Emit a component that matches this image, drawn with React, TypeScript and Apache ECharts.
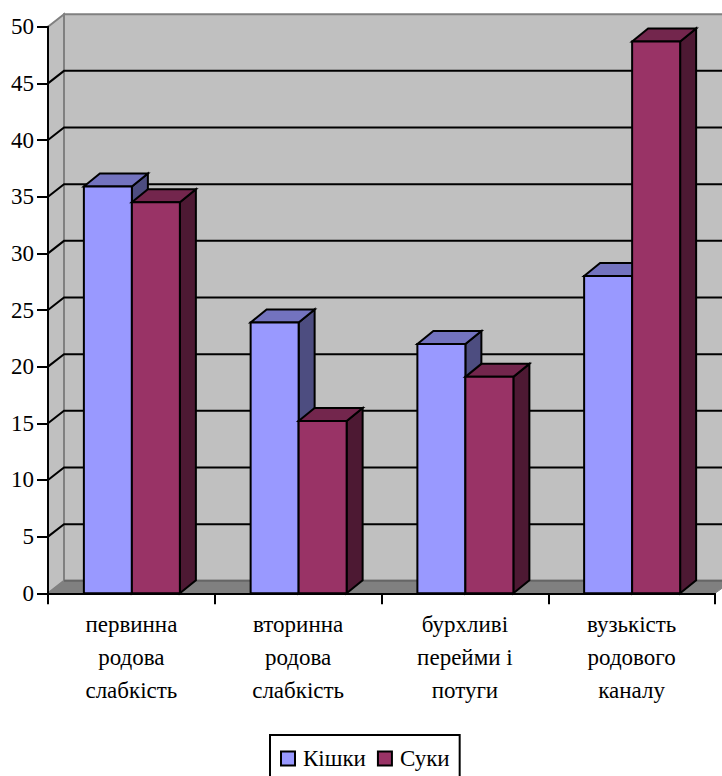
import React, { useEffect, useRef } from "react";
import * as echarts from "echarts";

const categories = ["первинна\nродова\nслабкість", "вторинна\nродова\nслабкість", "бурхливі\nперейми і\nпотуги", "вузькість\nродового\nканалу"];
const catsName = "Кішки";
const dogsName = "Суки";
const catsValues = [35.9, 23.9, 22, 28];
const dogsValues = [34.5, 15.2, 19.1, 48.7];
const gridTicks = [5, 10, 15, 20, 25, 30, 35, 40, 45];

const FONT = "Liberation Serif";
const DX = 16;
const WALL_DY = 12.5;
const BAR_DY = 13;
const BAR_W = 48;

const polygon = (points: number[][], fill: string, stroke = "#000", lineWidth = 2) => ({
  type: "polygon",
  shape: { points },
  style: { fill, stroke, lineWidth, lineJoin: "miter" },
});

function renderWalls(params: any, api: any) {
  const cs = params.coordSys;
  const left = cs.x;
  const right = 722;
  const y0 = api.coord([0, 0])[1];
  const yTop = api.coord([0, 50])[1];
  const backX = left + DX;
  const children: any[] = [
    polygon([[backX, yTop - WALL_DY], [right + 4, yTop - WALL_DY], [right + 4, y0 - WALL_DY], [backX, y0 - WALL_DY]], "#c0c0c0", "#808080"),
    polygon([[left, yTop], [backX, yTop - WALL_DY], [backX, y0 - WALL_DY], [left, y0]], "#c0c0c0", "#808080"),
    polygon([[left, y0], [backX, y0 - WALL_DY], [right, y0 - WALL_DY], [right, y0 - 5], [cs.x + cs.width, y0]], "#808080", "#808080", 1),
    {
      type: "line",
      shape: { x1: backX, y1: y0 - WALL_DY, x2: right, y2: y0 - WALL_DY },
      style: { stroke: "#666666", lineWidth: 2 },
    },
  ];
  gridTicks.forEach((t) => {
    const y = api.coord([0, t])[1];
    children.push({
      type: "polyline",
      shape: { points: [[left, y], [backX, y - WALL_DY], [right + 4, y - WALL_DY]] },
      style: { fill: "none", stroke: "#000", lineWidth: 2 },
    });
  });
  return { type: "group", children };
}

const makeBar = (offset: number, front: string, top: string, side: string) => (_params: any, api: any) => {
  const base = api.coord([api.value(0), 0]);
  const head = api.coord([api.value(0), api.value(1)]);
  const x0 = base[0] + offset + 0.5;
  const x1 = x0 + BAR_W;
  const yb = base[1];
  const yt = head[1];
  return {
    type: "group",
    children: [
      polygon([[x1, yb], [x1 + DX, yb - BAR_DY], [x1 + DX, yt - BAR_DY], [x1, yt]], side),
      polygon([[x0, yt], [x0 + DX, yt - BAR_DY], [x1 + DX, yt - BAR_DY], [x1, yt]], top),
      polygon([[x0, yb], [x1, yb], [x1, yt], [x0, yt]], front),
    ],
  };
};

export default function App() {
  const ref = useRef<HTMLDivElement>(null);
  useEffect(() => {
    const chart = echarts.init(ref.current!, undefined, { renderer: "svg" });
    chart.setOption({
      animation: false,
      textStyle: { fontFamily: FONT },
      grid: { left: 48, top: 26.7, width: 667, height: 566.6 },
      legend: {
        data: [
          { name: catsName, icon: "rect", itemStyle: { color: "#9999ff", borderColor: "#000", borderWidth: 2 } },
          { name: dogsName, icon: "rect", itemStyle: { color: "#993366", borderColor: "#000", borderWidth: 2 } },
        ],
        left: 270,
        top: 735,
        orient: "horizontal",
        itemWidth: 14,
        itemHeight: 14,
        itemGap: 11,
        padding: [12, 10, 20, 10],
        borderColor: "#000",
        borderWidth: 2,
        backgroundColor: "#fff",
        selectedMode: false,
        textStyle: { fontFamily: FONT, fontSize: 23, color: "#000", padding: [0, 0, 0, 3] },
      },
      xAxis: {
        type: "category",
        data: categories,
        z: 5,
        axisLine: { lineStyle: { color: "#000", width: 2 } },
        axisTick: { show: true, length: 11, lineStyle: { color: "#000", width: 2 } },
        axisLabel: { interval: 0, color: "#000", fontFamily: FONT, fontSize: 23, lineHeight: 33, margin: 15 },
        splitLine: { show: false },
      },
      yAxis: {
        type: "value",
        min: 0,
        max: 50,
        interval: 5,
        z: 5,
        axisLine: { show: true, lineStyle: { color: "#000", width: 2 } },
        axisTick: { show: true, length: 11, lineStyle: { color: "#000", width: 2 } },
        axisLabel: { color: "#000", fontFamily: FONT, fontSize: 23, margin: 14 },
        splitLine: { show: false },
      },
      series: [
        { type: "custom", name: "walls", silent: true, z: 1, clip: false, renderItem: renderWalls, data: [[0, 0]], encode: { x: 0, y: 1 } },
        {
          type: "custom", name: catsName, silent: true, z: 2, clip: false,
          renderItem: makeBar(-48, "#9999ff", "#7373bf", "#4d4d80"),
          data: catsValues.map((v, i) => [i, v]), encode: { x: 0, y: 1 },
          itemStyle: { color: "#9999ff" },
        },
        {
          type: "custom", name: dogsName, silent: true, z: 3, clip: false,
          renderItem: makeBar(0, "#993366", "#73264d", "#4d1933"),
          data: dogsValues.map((v, i) => [i, v]), encode: { x: 0, y: 1 },
          itemStyle: { color: "#993366" },
        },
      ],
    });
    return () => chart.dispose();
  }, []);
  return <div ref={ref} style={{ position: "absolute", left: 0, top: 0, width: 722, height: 776 }} />;
}
